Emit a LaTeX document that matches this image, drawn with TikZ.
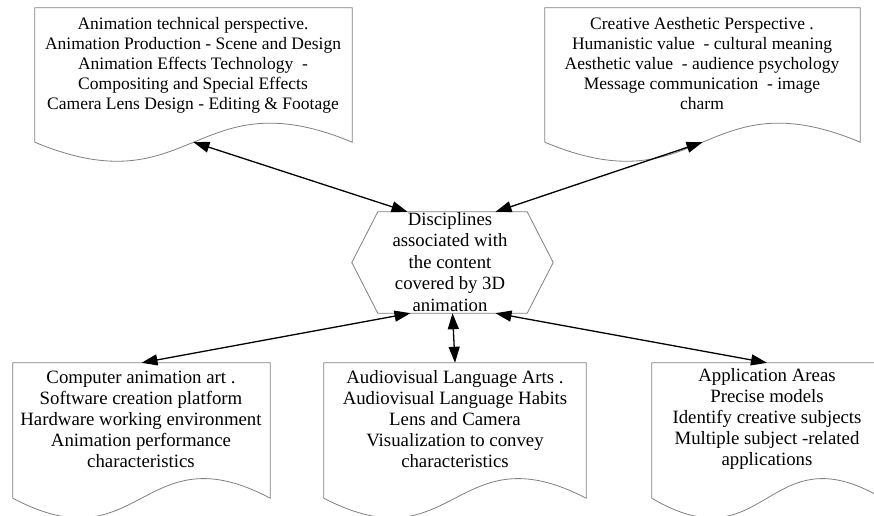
\documentclass[tikz,border=0pt]{standalone}
\usepackage{fontspec}
\setmainfont{Liberation Serif}
\usetikzlibrary{arrows.meta,calc}
\newcommand{\docwave}[3]{\draw[docline] (#1.south west) -- (#1.north west) -- (#1.north east) -- (#1.south east) .. controls +(-#2,-#3) and +(#2,#3) .. (#1.south west);}
\tikzset{
  docbox/.style={draw=none, inner sep=0pt, minimum height=#1},
  docline/.style={draw=black!50, line width=0.8pt},
  toptext/.style={align=center, inner sep=0pt, font=\fontsize{17.5}{20}\selectfont},
  bottext/.style={align=center, inner sep=0pt, font=\fontsize{18.8}{21}\selectfont},
  hextext/.style={align=center, inner sep=0pt, font=\fontsize{18.7}{21.5}\selectfont},
  dblarrow/.style={{Triangle[length=16pt,width=11pt]}-{Triangle[length=16pt,width=11pt]}, line width=1.3pt, black},
}
\begin{document}
\begin{tikzpicture}[x=1pt,y=-1pt]
\useasboundingbox (0,0) rectangle (874,515);
\clip (0,0) rectangle (874,515);
\fill[white] (0,0) rectangle (874,515);

% document boxes (straight part)
\node[docbox=134pt, minimum width=317pt] (tl) at (193.5,75) {};
\node[docbox=134pt, minimum width=315pt] (tr) at (702.5,75) {};
\node[docbox=135pt, minimum width=257pt] (bl) at (141.5,430.5) {};
\node[docbox=135pt, minimum width=262pt] (bm) at (455,430.5) {};
\node[docbox=135pt, minimum width=230pt] (br) at (767,430.5) {};

\docwave{tl}{158}{66}
\docwave{tr}{157}{66}
\docwave{bl}{128}{68}
\docwave{bm}{131}{68}
\docwave{br}{115}{68}

% hexagon
\node[draw=none, inner sep=0pt, minimum width=201pt, minimum height=101pt] (hex) at (452.5,262.5) {};
\draw[docline] (hex.west) -- ($(hex.north west)+(26,0)$) -- ($(hex.north east)+(-26,0)$) -- (hex.east) -- ($(hex.south east)+(-26,0)$) -- ($(hex.south west)+(26,0)$) -- cycle;

% texts
\node[toptext] (tlt) at (193,65) {Animation technical perspective.\\Animation Production - Scene and Design\\Animation Effects Technology~ -\\Compositing and Special Effects\\Camera Lens Design - Editing \& Footage};
\node[toptext] (trt) at (702,64) {Creative Aesthetic Perspective .\\Humanistic value~ - cultural meaning\\Aesthetic value~ - audience psychology\\Message communication~ - image\\charm};
\node[hextext] (hext) at (450,262) {Disciplines\\associated with\\the content\\covered by 3D\\animation};
\node[bottext] (blt) at (141,419) {Computer animation art .\\Software creation platform\\Hardware working environment\\Animation performance\\characteristics};
\node[bottext] (bmt) at (455,419) {Audiovisual Language Arts .\\Audiovisual Language Habits\\Lens and Camera\\Visualization to convey\\characteristics};
\node[bottext] (brt) at (767,419) {Application Areas\\Precise models\\Identify creative subjects\\Multiple subject -related\\applications};

% connectors
\draw[dblarrow] (tl.south) -- ($(hex.north)+(-45,0)$);
\draw[dblarrow] (tr.south) -- ($(hex.north)+(43,0)$);
\draw[dblarrow] (bl.north) -- ($(hex.south)+(-42,0)$);
\draw[dblarrow] (bm.north) -- (hex.south);
\draw[dblarrow] (br.north) -- ($(hex.south)+(43,0)$);
\end{tikzpicture}
\end{document}
